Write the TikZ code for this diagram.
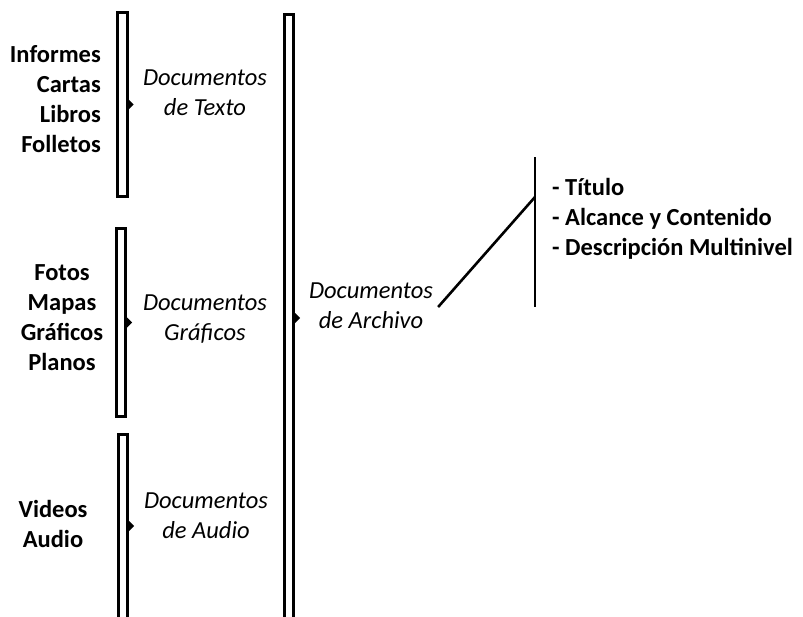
\documentclass[tikz,border=0pt]{standalone}
\usepackage{fontspec}
\setmainfont{Carlito}
\begin{document}
\begin{tikzpicture}[x=1pt,y=-1pt,
  bar/.style={draw=black, line width=2.6pt, fill=white, inner sep=0pt, minimum width=9.5pt},
  tip/.style={fill=black, draw=none},
  item/.style={font=\fontsize{24.5}{30}\selectfont\bfseries, inner sep=0pt},
  cat/.style={font=\fontsize{24.5}{30}\selectfont\itshape, align=center, inner sep=0pt, anchor=base},
  attr/.style={font=\fontsize{24.5}{30}\selectfont\bfseries, align=left, inner sep=0pt, anchor=base west}]
\useasboundingbox (0,0) rectangle (803,616);

% vertical brackets
\node[bar, minimum height=184pt] (b1) at (122.5,104.5) {};
\node[bar, minimum height=188pt] (b2) at (121,322.5) {};
\node[bar, minimum height=200pt, anchor=north] (b3) at (123,433) {};
\node[bar, minimum height=620pt, anchor=north] (b4) at (289,13) {};

% small pointers on the brackets
\fill[tip] (b1.east) ++(0,-5) -- ++(5,5) -- ++(-5,5) -- cycle;
\fill[tip] (b2.east) ++(0,-5) -- ++(5,5) -- ++(-5,5) -- cycle;
\fill[tip] ([yshift=-526pt+433pt]b3.north east) ++(0,-5) -- ++(5,5) -- ++(-5,5) -- cycle;
\fill[tip] ([yshift=-318pt+13pt]b4.north east) ++(0,-5) -- ++(5,5) -- ++(-5,5) -- cycle;

% item lists (multi-line nodes: base = baseline of the last line)
\node[item, align=right, anchor=base east] (l1) at (101,152) {Informes\\Cartas\\Libros\\Folletos};
\node[item, align=center, anchor=base] (l2) at (62,370) {Fotos\\Mapas\\Gráficos\\Planos};
\node[item, align=center, anchor=base] (l3) at (53,547) {Videos\\Audio};

% categories
\node[cat] (c1) at (205,115) {Documentos\\de Texto};
\node[cat] (c2) at (205,340) {Documentos\\Gráficos};
\node[cat] (c3) at (206,538) {Documentos\\de Audio};
\node[cat] (c4) at (371,328) {Documentos\\de Archivo};

% archive description branch
\coordinate (rt) at (535,157);
\coordinate (rb) at (535,307);
\coordinate (rj) at (535,197);
\draw[line width=2.6pt] (rt) -- (rb);
\draw[line width=2.6pt] ([shift={(5,-21)}]c4.base east) -- (rj);
\node[attr] (a1) at (552,255) {- Título\\- Alcance y Contenido\\- Descripción Multinivel};
\end{tikzpicture}
\end{document}
